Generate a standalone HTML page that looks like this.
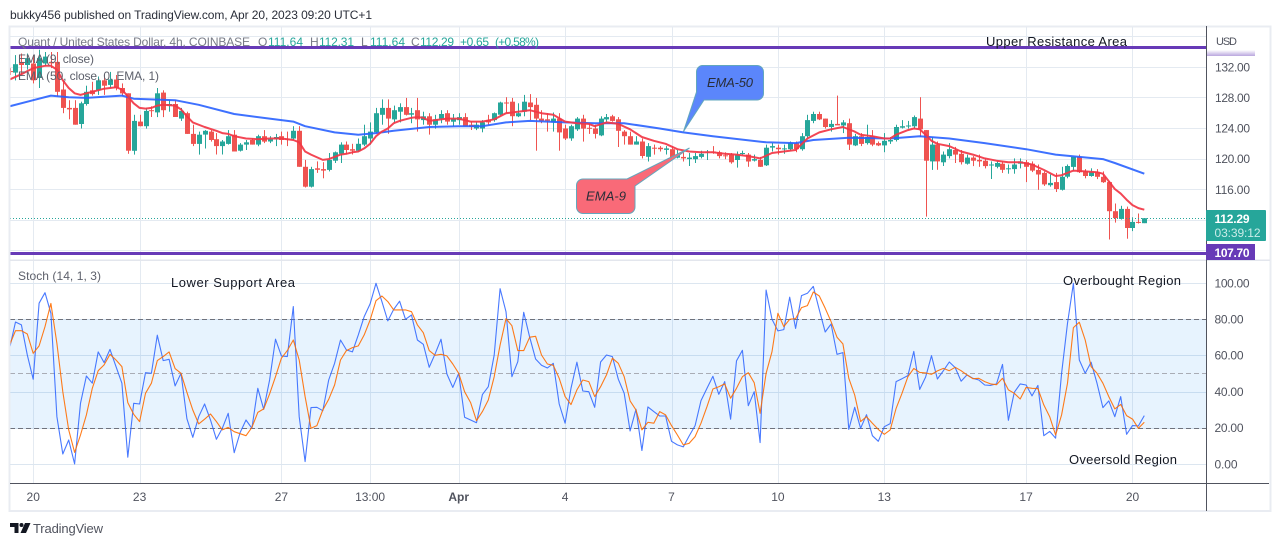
<!DOCTYPE html>
<html lang="en">
<head>
<meta charset="utf-8">
<title>Quant / United States Dollar, 4h chart</title>
<style>
html,body{margin:0;padding:0;background:#fff;}
body{width:1280px;height:546px;overflow:hidden;font-family:"Liberation Sans",sans-serif;}
svg{display:block;}
text{font-family:"Liberation Sans",sans-serif;}
</style>
</head>
<body>
<svg id="chart" width="1280" height="546" viewBox="0 0 1280 546" xmlns="http://www.w3.org/2000/svg">
  <defs>
    <clipPath id="plot-clip"><rect x="10.5" y="27" width="1195.5" height="456"/></clipPath>
    <linearGradient id="usd-fade" x1="0" y1="0" x2="0" y2="1">
      <stop offset="0" stop-color="#ffffff"/>
      <stop offset="1" stop-color="#b9a6de"/>
    </linearGradient>
  </defs>
  <rect x="0" y="0" width="1280" height="546" fill="#ffffff"/>
  <text x="10" y="19" font-size="12" fill="#2a2e39" textLength="362" lengthAdjust="spacing">bukky456 published on TradingView.com, Apr 20, 2023 09:20 UTC+1</text>
  <rect x="9.5" y="26.5" width="1261" height="484.5" fill="none" stroke="#e9ecf2" stroke-width="2"/>
  <g id="grid-layer"></g>
  <g id="plot-layer" clip-path="url(#plot-clip)"></g>
  <rect x="10" y="259.5" width="1260" height="1.5" fill="#e3e6ed"/>
  <rect x="1206" y="26" width="1" height="485" fill="#50535e"/>
  <rect x="10" y="483" width="1259" height="1" fill="#50535e"/>

  <g>
    <path d="M702 65.5H757a6.500 6.500 0 0 1 6.500 6.500V93.500a6.500 6.500 0 0 1-6.500 6.500H704L683.500 131.500L696.500 92V72a6.500 6.500 0 0 1 5.500-6.500Z" fill="#5b86fb" stroke="#62a7bd" stroke-width="1"/>
    <text x="730" y="87" font-size="13" font-style="italic" fill="#2a2e39" text-anchor="middle" textLength="46" lengthAdjust="spacing">EMA-50</text>
  </g>
  <g>
    <path d="M583 179H627L689.500 148L635 186V207a6.500 6.500 0 0 1-6.500 6.500H583a6.500 6.500 0 0 1-6.500-6.500V185.500a6.500 6.500 0 0 1 6.500-6.500Z" fill="#f96a78" stroke="#62a7bd" stroke-width="1"/>
    <text x="606" y="200.500" font-size="13" font-style="italic" fill="#2a2e39" text-anchor="middle" textLength="40" lengthAdjust="spacing">EMA-9</text>
  </g>

  <g font-size="12">
    <text x="18" y="46" fill="#787b86" textLength="232" lengthAdjust="spacing">Quant / United States Dollar, 4h, COINBASE</text>
    <text x="258" y="46" fill="#787b86">O</text>
    <text x="268" y="46" fill="#26a69a" textLength="35" lengthAdjust="spacing">111.64</text>
    <text x="310" y="46" fill="#787b86">H</text>
    <text x="319" y="46" fill="#26a69a" textLength="35" lengthAdjust="spacing">112.31</text>
    <text x="361" y="46" fill="#787b86">L</text>
    <text x="370" y="46" fill="#26a69a" textLength="35" lengthAdjust="spacing">111.64</text>
    <text x="411" y="46" fill="#787b86">C</text>
    <text x="420" y="46" fill="#26a69a" textLength="34" lengthAdjust="spacing">112.29</text>
    <text x="460" y="46" fill="#26a69a" textLength="29" lengthAdjust="spacing">+0.65</text>
    <text x="495" y="46" fill="#26a69a" textLength="44" lengthAdjust="spacing">(+0.58%)</text>
    <text x="18" y="63" fill="#5d606b" textLength="76" lengthAdjust="spacing">EMA (9, close)</text>
    <text x="18" y="80" fill="#5d606b" textLength="141" lengthAdjust="spacing">EMA (50, close, 0, EMA, 1)</text>
    <text x="18" y="280" fill="#5d606b" textLength="83" lengthAdjust="spacing">Stoch (14, 1, 3)</text>
  </g>

  <g font-size="13" fill="#131722">
    <text x="986" y="46" textLength="141" lengthAdjust="spacing">Upper Resistance Area</text>
    <text x="171" y="287" textLength="124" lengthAdjust="spacing">Lower Support Area</text>
    <text x="1063" y="285" textLength="118" lengthAdjust="spacing">Overbought Region</text>
    <text x="1069" y="464" textLength="108" lengthAdjust="spacing">Oveersold Region</text>
  </g>

  <g id="axis-layer"></g>

  <text x="1216" y="45" font-size="11" fill="#50535e" textLength="21" lengthAdjust="spacing">USD</text>
  <rect x="1207" y="50" width="48" height="6" fill="url(#usd-fade)"/>

  <g>
    <rect x="1206" y="210" width="60" height="31" rx="1" fill="#26a69a"/>
    <text x="1214.5" y="223" font-size="12" font-weight="bold" fill="#ffffff" textLength="35" lengthAdjust="spacing">112.29</text>
    <text x="1214.5" y="237" font-size="12" fill="#c9ece8" textLength="46" lengthAdjust="spacing">03:39:12</text>
  </g>
  <g>
    <rect x="1206" y="244" width="49" height="16" fill="#673ab7"/>
    <text x="1214.5" y="257" font-size="12" font-weight="bold" fill="#ffffff" textLength="35" lengthAdjust="spacing">107.70</text>
  </g>

  <g>
    <path d="M10 523H18.500V533H14.500V527H10ZM25 523H30.500L26 533H20.500Z" fill="#131722"/>
    <circle cx="21.500" cy="525" r="2" fill="#131722"/>
    <text x="33" y="533" font-size="13" fill="#50535e" textLength="70" lengthAdjust="spacing">TradingView</text>
  </g>
</svg>

<script>
// --- Candles: one entry per 4h bar ---
const opens = [
131.5,131.3,132.7,132.3,132.5,130.6,132.5,132.7,132.7,129.1,
126.7,126.7,124.6,127.2,129.0,129.0,130.3,129.7,130.4,129.3,
128.6,121.1,124.9,124.3,126.4,126.1,128.7,127.0,127.2,125.3,
126.0,123.3,122.0,123.2,123.6,122.6,121.7,122.0,123.2,121.1,
121.9,122.5,121.9,123.0,122.3,122.6,123.0,122.7,122.7,123.7,
119.0,116.4,118.8,118.7,118.6,119.8,120.7,121.9,121.3,121.1,
121.9,122.7,123.5,125.8,126.7,125.2,126.2,126.8,125.8,126.4,
125.1,125.6,124.5,125.3,126.0,124.9,125.1,125.5,124.5,124.0,
124.0,125.1,125.1,125.8,127.4,127.5,125.6,126.2,127.4,127.1,
125.3,125.2,124.8,125.3,124.0,122.7,123.9,125.3,124.1,124.0,
123.1,125.2,125.6,125.2,123.6,123.0,121.9,122.3,120.3,121.5,
121.5,121.2,121.3,120.2,120.3,120.0,120.0,120.3,120.9,121.0,
120.9,120.5,120.6,119.9,120.7,120.6,119.8,119.9,119.2,121.5,
121.5,121.3,121.3,122.1,121.3,123.0,125.0,125.9,125.3,124.2,
124.6,124.4,124.7,121.8,123.0,122.1,123.0,122.1,121.8,122.3,
122.5,124.1,124.3,124.3,125.3,123.8,119.7,121.9,119.6,120.4,
121.2,120.7,119.4,120.2,119.9,119.8,119.2,119.0,119.4,118.7,
118.7,119.4,119.6,119.4,118.6,118.2,116.6,117.0,116.0,117.7,
119.0,120.3,118.4,117.8,118.3,117.7,117.0,113.2,112.2,113.5,
111.0,111.8,111.64];
const highs = [
131.9,133.6,133.8,133.8,133.6,134.3,134.0,134.0,134.0,130.3,
127.7,127.7,127.5,129.6,130.1,130.8,131.0,131.4,131.0,129.9,
128.6,125.8,125.8,126.7,126.9,129.3,129.0,127.7,127.7,126.7,
126.2,124.5,123.6,123.8,123.8,123.4,122.5,123.8,123.8,122.1,
122.5,122.7,123.2,123.8,123.0,123.3,123.6,123.6,124.3,124.3,
119.9,119.0,119.7,119.6,120.8,121.0,122.2,122.3,122.0,122.7,
124.5,124.8,126.7,127.8,127.8,127.0,127.3,128.0,126.7,128.0,
126.2,126.0,125.8,126.4,126.4,125.9,126.0,126.0,124.9,124.8,
125.1,125.8,126.1,127.5,128.1,128.0,127.3,128.4,128.5,128.0,
126.4,126.0,126.1,126.0,124.5,124.5,125.5,125.8,124.7,124.5,
125.6,125.9,125.8,125.5,123.8,123.6,123.0,122.7,122.1,121.9,
121.7,121.7,121.7,121.2,121.0,120.8,120.8,121.1,121.2,121.7,
121.1,120.9,120.8,121.0,121.1,120.8,120.6,120.3,121.9,122.1,
121.9,121.9,122.3,122.3,123.4,125.8,126.2,126.2,125.3,125.1,
128.3,125.1,125.3,123.3,123.4,124.5,123.8,122.3,123.4,122.9,
124.5,125.1,125.0,125.7,128.1,123.8,122.9,122.3,121.0,122.1,
121.6,121.2,120.6,120.4,120.6,120.1,119.7,119.7,119.7,119.3,
120.1,120.1,119.9,119.7,119.3,118.4,118.0,118.2,119.0,119.3,
120.3,120.6,118.7,118.8,118.7,118.4,117.1,114.2,113.9,113.8,
112.4,112.9,112.31];
const lows = [
131.0,130.3,131.0,131.7,129.9,129.3,132.1,131.9,128.2,126.0,
125.2,124.5,124.0,127.0,128.3,128.4,128.4,129.3,129.0,128.2,
120.7,120.6,124.3,124.0,125.5,125.5,125.5,126.2,125.5,125.0,
123.3,121.7,120.6,121.4,122.3,120.6,120.6,121.9,121.0,121.0,
121.2,121.9,121.7,122.1,122.1,121.7,121.9,121.7,122.5,119.0,
116.3,116.3,118.2,117.5,118.4,119.5,119.5,120.6,120.6,121.0,
121.7,121.9,123.4,124.5,123.3,124.7,124.8,125.7,124.7,123.6,
124.5,123.2,124.0,124.7,124.5,124.3,124.5,124.3,123.8,123.8,
123.5,124.5,124.9,125.7,126.0,124.3,125.5,125.6,125.1,121.1,
124.7,123.6,123.6,121.1,122.5,122.4,123.7,122.3,123.3,122.7,
123.0,124.9,124.9,121.6,121.9,121.9,121.9,120.1,119.7,120.6,
121.0,120.6,120.1,120.1,119.7,119.1,119.5,120.1,119.9,120.7,
120.1,120.0,119.4,118.9,120.6,119.0,119.7,119.0,119.1,121.0,
120.6,120.7,121.1,120.9,121.1,122.7,124.7,125.1,124.0,123.6,
124.5,123.4,121.2,121.7,121.7,121.9,121.7,121.7,120.9,122.0,
122.3,124.0,124.0,124.0,122.9,112.5,118.6,118.6,119.1,120.1,
119.5,119.3,119.3,119.1,119.0,118.8,117.4,118.8,118.2,118.1,
118.1,118.8,117.0,118.3,116.0,116.5,116.4,115.7,115.9,117.5,
118.4,118.2,117.5,117.7,117.4,116.9,109.5,111.7,112.1,109.6,
110.6,111.6,111.64];
const closes = [
131.4,132.4,132.3,133.2,130.3,133.2,133.4,132.5,128.8,126.7,
126.5,124.5,127.3,128.8,128.5,130.3,129.6,130.4,129.3,128.6,
121.1,125.0,124.3,126.3,126.3,128.6,126.4,127.2,125.5,126.3,
123.3,122.0,123.2,123.7,122.5,121.7,122.3,123.0,121.0,121.9,
122.2,121.9,123.0,122.3,122.6,122.9,122.5,122.6,123.7,119.0,
116.4,118.7,118.6,118.5,119.9,120.9,121.9,121.2,121.1,122.0,
123.0,123.6,126.0,126.7,125.3,126.4,126.8,125.8,126.0,125.2,
125.6,124.5,125.2,125.9,124.9,125.3,125.5,124.3,124.2,124.5,
124.8,124.8,126.0,127.4,127.3,125.6,126.0,127.5,126.8,125.3,
125.0,125.0,125.3,123.5,122.7,124.3,125.3,124.0,124.0,123.3,
125.3,125.5,125.0,123.7,123.0,121.9,122.3,120.4,121.7,121.4,
121.3,121.4,120.2,120.6,120.1,120.2,120.4,120.7,121.0,120.9,
120.4,120.4,119.6,120.6,120.8,119.7,120.0,119.0,121.5,121.7,
121.3,121.4,122.1,121.3,123.0,125.1,125.9,125.2,124.2,124.6,
124.4,124.8,121.9,123.0,122.0,122.9,121.9,121.8,122.4,122.5,
124.2,124.3,124.4,125.5,123.9,119.8,121.9,119.7,120.6,121.3,
120.6,119.6,120.2,119.8,119.7,119.1,119.3,119.5,118.6,118.8,
119.3,119.7,119.0,118.5,118.0,116.7,116.9,116.1,117.7,119.1,
120.3,118.3,117.8,118.3,117.7,117.0,113.2,112.3,113.5,111.0,
111.8,111.7,112.29];

// --- Moving averages: sampled bar numbers and values ---
const ema9Bars = [0,2,4,6,7,8,9,10,11,12,13,14,16,18,19,20,21,22,23,24,25,26,28,29,30,31,33,35,36,37,38,40,42,44,46,48,49,50,51,53,54,55,56,57,58,59,60,61,62,63,64,65,66,67,68,69,70,71,74,76,78,80,82,84,86,88,90,92,94,96,98,99,101,103,105,107,109,111,113,115,117,119,121,123,125,127,129,131,133,135,137,139,141,143,144,146,148,149,150,152,153,154,155,156,157,159,161,163,165,167,169,171,173,175,177,178,180,182,184,185,186,187,188,189,190,191,192];
const ema9Values = [130.4,131.1,131.9,132.2,132.2,131.7,130.3,129.3,128.6,128.4,128.6,128.8,129.2,129.4,129.1,128.2,127.3,126.7,126.6,126.7,127.0,127.1,127.0,126.5,125.6,124.8,124.2,123.7,123.4,123.3,123.0,122.7,122.6,122.7,122.7,122.5,122.2,121.0,120.6,119.9,120.0,120.3,120.6,120.7,120.9,121.0,121.4,122.0,123.0,123.6,124.0,124.7,125.0,125.2,125.4,125.5,125.4,125.0,125.3,125.3,124.9,124.9,125.2,126.0,126.2,126.4,126.0,125.8,124.9,124.7,124.6,124.3,124.8,124.6,123.9,122.9,122.4,122.0,121.3,121.0,120.9,120.9,120.7,120.6,120.4,120.1,120.8,121.0,121.2,122.7,123.5,123.9,124.2,123.6,123.2,123.0,122.7,122.7,123.2,123.8,124.0,123.9,123.2,122.4,122.0,121.7,121.0,120.6,120.1,119.8,119.6,119.6,119.3,118.6,117.8,117.9,118.5,118.4,118.3,118.1,117.1,116.1,115.5,114.7,114.0,113.6,113.4];
const ema50Bars = [0,4,7,10,13,19,21,28,32,38,44,48,50,55,59,62,65,71,76,80,84,88,94,99,104,110,114,119,128,133,136,142,149,154,159,165,172,177,185,187,192];
const ema50Values = [126.9,127.7,128.3,128.1,128.0,128.3,127.9,127.7,127.1,125.9,125.3,124.9,124.3,123.5,123.2,123.4,123.7,124.2,124.3,124.3,124.8,125.0,124.8,124.7,124.7,124.0,123.5,123.0,122.2,122.1,122.5,122.8,122.7,123.0,122.7,122.1,121.3,120.6,120.0,119.5,118.1];

// --- Stochastic oscillator, one value per bar ---
const stochK = [
64.1,78.6,77,60.4,47,89,94.8,83.4,26.3,5.7,
13.4,0.2,33.7,48.8,44.8,62.1,56.2,63.5,54,44.8,
3.9,33.7,33.3,50.6,50.3,71.3,57.3,58,43.3,50.3,
25.2,14.9,26.3,33.3,24.5,13.8,19.9,28.2,6.4,17.5,
24.5,19.9,42,30.4,46.6,69.1,59.9,59.5,87.1,26.3,
1.5,31.3,31.5,29.6,46.6,55.8,68.7,63.2,62.1,71.5,
81.6,88.6,100,89.9,79.2,85.6,90.1,80.1,82.5,68.7,
66.3,53.6,61,69.1,49.9,42.5,50.3,26,24.5,23,
38.5,42.9,60.4,97,84.3,48.4,56.7,84,70.2,58.2,
54.7,53.2,55.8,33.3,22.7,42,56.4,40.5,40.1,31.5,
56.5,60.4,59.5,47,39.2,18.4,30.4,7.6,31.7,29.1,
26.7,26.7,12.7,10.7,9.6,15.7,21.4,35.2,42,48.6,
38.7,45.7,24.9,57.1,63,32.4,40.1,12,96.3,80.1,
73.7,74.4,92.3,75.1,93.2,94.5,98.3,85.3,73.1,77.5,
60.8,61.7,19.3,31.5,19.9,27.4,15.8,12.7,20.8,22.5,
45.7,47.3,49,62.4,41.4,48.2,60,47.1,51.7,56.5,
53.4,45.9,49.4,47.5,46.6,43.8,43.6,44.4,55.2,24.3,
39.8,44.4,43.8,37.8,43.6,15.8,18.2,14.4,50.3,77.9,
100,57.6,50.3,56.4,44.8,31.3,35,26.3,37.4,16.6,
21.4,21.2,26.9];
const stochD = [
65.9,73.8,73.8,72,61.3,65.4,76.1,88.9,66.8,40.1,
19,6.6,16.2,27.3,42,51.7,54.9,60.8,57.6,54,
34.1,27.6,23.6,39.2,44.8,57.3,59.5,62.1,52.9,50.3,
39.8,30,22.3,24.9,27.8,23.6,19,20.4,18,16.9,
15.8,20.4,28.7,30.6,38.9,48.4,58.6,62.8,68.7,57.6,
37.4,19.9,21.4,30,35.9,43.8,57.6,62.8,64.5,65.4,
71.5,79.7,90.4,93,89.9,85.3,85.3,85.3,84.3,77,
72.7,62.8,60.2,60.8,59.9,55.4,50.3,40.1,34.1,24.1,
29.1,35.5,48.4,65.9,80.5,76.6,62.8,62.8,70.2,70.7,
60.4,55.4,54.7,47.5,37.4,33,41.1,46.6,45.7,37.4,
42.9,49.4,58.6,55.8,48.4,35,30,19,23.2,22.7,
29.1,27.3,21.4,16.2,10.7,11.6,15.3,22.7,31.9,41.6,
42.9,44.4,36.5,42,48.4,50.6,45.1,28.2,50.3,62.2,
83.4,76.1,80.1,80.5,86.6,87.7,95.2,93,86.2,78.8,
70.2,66.5,47.5,38.3,23.6,26.3,22.7,19.3,16.6,19,
30.9,39.2,48.4,53,50.8,50.5,49.7,51.6,53,51.7,
53.6,51.7,49.4,47.3,47.5,45.7,44.4,44,47.5,41.1,
39.2,36.1,42.5,42,41.8,32.8,26.3,16.2,27.3,44.8,
75.5,78.5,68.7,54,50.3,44.8,37.4,30.6,33.1,26.9,
25,19.9,23.2];

// --- Axis ticks and levels ---
const priceTicks = [132,128,124,120,116];
const priceGridLevels = [136,132,128,124,120,116,112,108];
const stochTicks = [100,80,60,40,20,0];
const stochBandLevels = [80,50,20];
const timeLabels = ["20","23","27","13:00","Apr","4","7","10","13","17","20"];
const timeLabelBars = [4,22,46,61,76,94,112,130,148,172,190];
const lastPrice = 112.29;
const resistanceLevel = 134.6;
const supportLevel = 107.7;

// --- Axis functions ---
const SVG_NS = "http://www.w3.org/2000/svg";
const barCount = closes.length;
function xBar(i) { return 1144.3 - (barCount - 1 - i) * 5.91; }
function yPrice(p) { return 67.3 + (132 - p) * 7.654; }
function yStoch(v) { return 464.3 - v * 1.81; }
function snapPrice(p) { return Math.floor(yPrice(p)) + 0.5; }
function snapStoch(v) { return Math.floor(yStoch(v) + 0.1) + 0.5; }

const plotLayer = document.getElementById("plot-layer");
const gridLayer = document.getElementById("grid-layer");
const axisLayer = document.getElementById("axis-layer");

function make(tag, parent, attrs) {
  const el = document.createElementNS(SVG_NS, tag);
  for (const k in attrs) el.setAttribute(k, attrs[k]);
  parent.appendChild(el);
  return el;
}
function buildLinePoints(bars, values, yFn) {
  return values.map(function (v, k) {
    return xBar(bars ? bars[k] : k).toFixed(1) + "," + yFn(v).toFixed(1);
  }).join(" ");
}

// Grid
timeLabelBars.forEach(function (b) {
  const x = Math.round(xBar(b)) + 0.5;
  const el = make("line", gridLayer, { x1: x, x2: x, y1: 27, y2: 483, stroke: "#e4eaf1", "stroke-width": 1 });
  
  
});
priceGridLevels.forEach(function (p) {
  const y = snapPrice(p);
  const el = make("line", gridLayer, { x1: 10, x2: 1206, y1: y, y2: y, stroke: "#e4eaf1", "stroke-width": 1 });
  
  
});
stochTicks.forEach(function (v) {
  const y = snapStoch(v);
  const el = make("line", gridLayer, { x1: 10, x2: 1206, y1: y, y2: y, stroke: "#dce6f0", "stroke-width": 1 });
  
  
});

// Stochastic band
const band = make("rect", plotLayer, {
  x: 10, y: snapStoch(stochBandLevels[0]), width: 1196,
  height: snapStoch(stochBandLevels[2]) - snapStoch(stochBandLevels[0]),
  fill: "#2196f3", "fill-opacity": 0.11
});


stochBandLevels.forEach(function (v, k) {
  const y = snapStoch(v);
  const el = make("line", plotLayer, {
    x1: 10, x2: 1206, y1: y, y2: y,
    stroke: k === 1 ? "#a9acb5" : "#6f727c", "stroke-width": 1, "stroke-dasharray": "5 3"
  });
  
  
});

// Candles
closes.forEach(function (c, i) {
  const o = opens[i];
  const up = c >= o;
  const color = up ? "#26a69a" : "#ef5350";
  const x = Math.round(xBar(i));
  const yHigh = yPrice(highs[i]);
  const yLow = yPrice(lows[i]);
  const top = yPrice(Math.max(o, c));
  const bottom = yPrice(Math.min(o, c));
  const group = make("g", plotLayer, {});
  
  
  const wick = make("rect", group, { x: x, y: yHigh.toFixed(1), width: 1, height: (yLow - yHigh).toFixed(1), fill: color });
  
  
  const body = make("rect", group, { x: x - 2, y: top.toFixed(1), width: 5, height: Math.max(bottom - top, 1).toFixed(1), fill: color });
  
  
});

// EMA lines
const ema50Line = make("polyline", plotLayer, {
  points: buildLinePoints(ema50Bars, ema50Values, yPrice),
  fill: "none", stroke: "#2962ff", "stroke-width": 2, "stroke-linejoin": "round", "stroke-opacity": 0.9
});


const ema9Line = make("polyline", plotLayer, {
  points: buildLinePoints(ema9Bars, ema9Values, yPrice),
  fill: "none", stroke: "#f23645", "stroke-width": 2, "stroke-linejoin": "round", "stroke-opacity": 0.92
});



// Horizontal levels
const resistanceY = snapPrice(resistanceLevel);
const resistance = make("line", plotLayer, { x1: 10, x2: 1206, y1: resistanceY, y2: resistanceY, stroke: "#673ab7", "stroke-width": 3 });


const supportY = snapPrice(supportLevel);
const support = make("line", plotLayer, { x1: 10, x2: 1206, y1: supportY, y2: supportY, stroke: "#673ab7", "stroke-width": 3 });


const lastY = snapPrice(lastPrice);
const lastLine = make("line", plotLayer, { x1: 10, x2: 1206, y1: lastY, y2: lastY, stroke: "#26a69a", "stroke-width": 1, "stroke-dasharray": "1 2" });



// Stochastic lines
const kLine = make("polyline", plotLayer, {
  points: buildLinePoints(null, stochK, yStoch),
  fill: "none", stroke: "#2962ff", "stroke-width": 1.1, "stroke-linejoin": "round", "stroke-opacity": 0.85
});


const dLine = make("polyline", plotLayer, {
  points: buildLinePoints(null, stochD, yStoch),
  fill: "none", stroke: "#ff6d00", "stroke-width": 1.1, "stroke-linejoin": "round", "stroke-opacity": 0.9
});



// Axis labels
priceTicks.forEach(function (p) {
  const t = make("text", axisLayer, { x: 1215, y: (yPrice(p) + 4).toFixed(1), "font-size": 12, fill: "#50535e", textLength: 35, lengthAdjust: "spacing" });
  t.textContent = p.toFixed(2);
  
  
});
stochTicks.forEach(function (v) {
  const t = make("text", axisLayer, { x: 1214.5, y: (yStoch(v) + 4).toFixed(1), "font-size": 12, fill: "#50535e" });
  t.setAttribute("textLength", v === 100 ? 35 : (v === 0 ? 23 : 29));
  t.setAttribute("lengthAdjust", "spacing");
  t.textContent = v.toFixed(2);
  
  
});
timeLabels.forEach(function (label, k) {
  const t = make("text", axisLayer, {
    x: xBar(timeLabelBars[k]).toFixed(1), y: 501, "font-size": 12, "text-anchor": "middle",
    fill: "#50535e", "font-weight": label === "Apr" ? "bold" : "normal"
  });
  t.textContent = label;
  
  
});
</script>
</body>
</html>
